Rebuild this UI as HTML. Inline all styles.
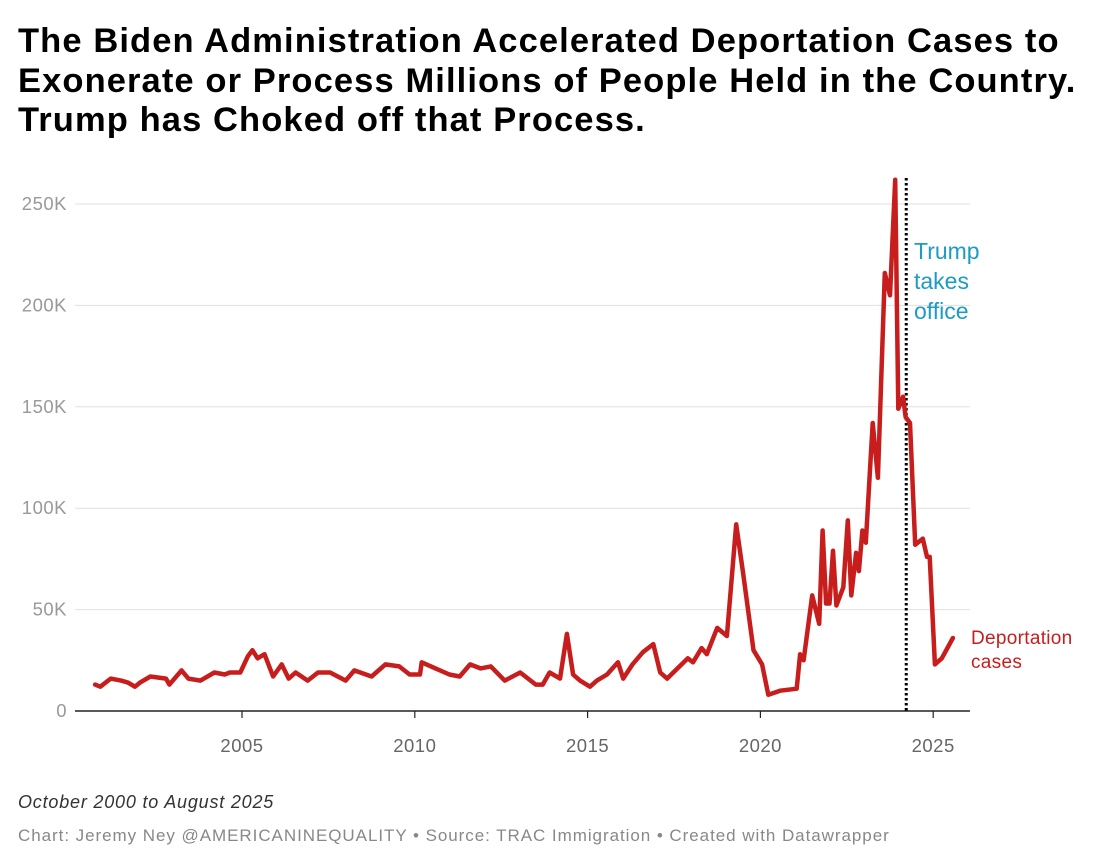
<!DOCTYPE html>
<html><head><meta charset="utf-8"><style>
body{margin:0;background:#fff;width:1100px;height:866px;overflow:hidden;font-family:"Liberation Sans",sans-serif}
h1{position:absolute;left:18px;top:22px;margin:0;font-size:34.5px;line-height:39.5px;font-weight:bold;color:#000;letter-spacing:1.1px}
.sub{position:absolute;left:18px;top:792px;font-size:18px;font-style:italic;color:#333;letter-spacing:0.8px}
.foot{position:absolute;left:18px;top:826px;font-size:17px;color:#888;letter-spacing:0.95px}
svg{position:absolute;left:0;top:0}
</style></head><body>
<h1>The Biden Administration Accelerated Deportation Cases to<br>Exonerate or Process Millions of People Held in the Country.<br>Trump has Choked off that Process.</h1>
<svg id="c" width="1100" height="866"></svg>
<div class="sub">October 2000 to August 2025</div>
<div class="foot">Chart: Jeremy Ney @AMERICANINEQUALITY • Source: TRAC Immigration • Created with Datawrapper</div>
<script>
const years=[2000.75,2000.9,2001.2,2001.5,2001.7,2001.9,2002.05,2002.35,2002.8,2002.9,2003.25,2003.45,2003.8,2004.2,2004.5,2004.65,2004.95,2005.17,2005.3,2005.45,2005.65,2005.9,2006.15,2006.35,2006.55,2006.9,2007.2,2007.55,2008.0,2008.25,2008.75,2009.15,2009.55,2009.85,2010.15,2010.2,2010.6,2011.0,2011.3,2011.6,2011.9,2012.2,2012.6,2013.05,2013.5,2013.7,2013.9,2014.2,2014.4,2014.58,2014.78,2015.07,2015.27,2015.56,2015.88,2016.03,2016.3,2016.6,2016.9,2017.1,2017.3,2017.6,2017.9,2018.05,2018.3,2018.45,2018.75,2019.03,2019.3,2019.5,2019.8,2020.05,2020.23,2020.57,2021.05,2021.15,2021.25,2021.5,2021.7,2021.8,2021.9,2022.0,2022.1,2022.2,2022.4,2022.53,2022.63,2022.77,2022.85,2022.95,2023.05,2023.25,2023.4,2023.6,2023.75,2023.9,2023.99,2024.13,2024.2,2024.33,2024.48,2024.7,2024.82,2024.9,2025.05,2025.25,2025.57];
const cases=[13,12,16,15,14,12,14,17,16,13,20,16,15,19,18,19,19,27,30,26,28,17,23,16,19,15,19,19,15,20,17,23,22,18,18,24,21,18,17,23,21,22,15,19,13,13,19,16,38,18,15,12,15,18,24,16,23,29,33,19,16,21,26,24,31,28,41,37,92,68,30,23,8,10,11,28,25,57,43,89,53,53,79,52,61,94,57,78,69,89,83,142,115,216,205,262,149,155,145,142,82,85,76,76,23,26,36];
const yTicks=[0,50,100,150,200,250];
const yTickLabels=["0","50K","100K","150K","200K","250K"];
const xTicks=[2005,2010,2015,2020,2025];
const trumpYear=2024.22;
const X=y=>242+(y-2005)*34.56;
const Y=v=>711-v*2.028;
const svg=document.getElementById('c');
const NS='http://www.w3.org/2000/svg';
function mk(t,a,p){const e=document.createElementNS(NS,t);for(const k in a)e.setAttribute(k,a[k]);(p||svg).appendChild(e);return e;}
yTicks.forEach((v,i)=>{
  if(v>0){const g=mk('line',{x1:75,x2:970,y1:Y(v),y2:Y(v),stroke:'#e0e0e0','stroke-width':1});
  
  }
  const t=mk('text',{x:67,y:Y(v)+6,'text-anchor':'end','font-size':18.5,fill:'#999','letter-spacing':0.5});
  t.textContent=yTickLabels[i];
  
  
});
const ax=mk('line',{x1:75,x2:970,y1:711,y2:711,stroke:'#222','stroke-width':1.5});


xTicks.forEach(yr=>{
  const tk=mk('line',{x1:X(yr),x2:X(yr),y1:711,y2:718,stroke:'#222','stroke-width':1.2});
  
  
  const t=mk('text',{x:X(yr),y:752,'text-anchor':'middle','font-size':18.5,fill:'#666','letter-spacing':0.5});
  t.textContent=yr;
  
  
});
const tl=mk('line',{x1:X(trumpYear),x2:X(trumpYear),y1:178,y2:711,stroke:'#000','stroke-width':3,'stroke-dasharray':'2.5,2.5'});


['Trump','takes','office'].forEach((s,i)=>{
  const t=mk('text',{x:914,y:259+i*30,'font-size':23,fill:'#1d9bc5'});
  t.textContent=s;
  
  
});
const d=years.map((y,i)=>(i?'L':'M')+X(y).toFixed(1)+','+Y(cases[i]).toFixed(1)).join('');
const p=mk('path',{d:d,fill:'none',stroke:'#c71e1d','stroke-width':4.5,'stroke-linejoin':'round','stroke-linecap':'round'});


['Deportation','cases'].forEach((s,i)=>{
  const t=mk('text',{x:971,y:644+i*24,'font-size':19,fill:'#c71e1d','letter-spacing':0.3});
  t.textContent=s;
  
  
});
</script>
</body></html>
